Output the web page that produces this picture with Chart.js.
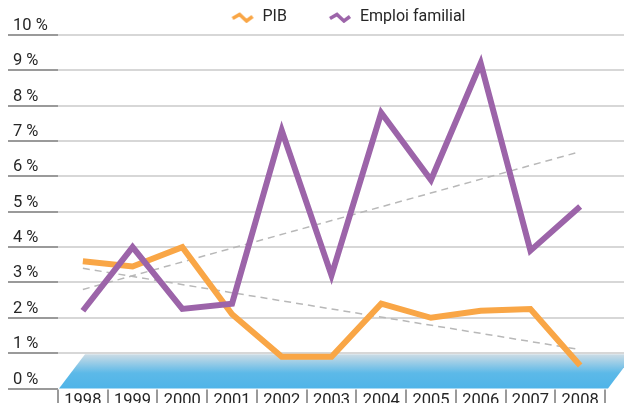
<!DOCTYPE html>
<html>
<head>
<meta charset="utf-8">
<script src="https://cdn.jsdelivr.net/npm/chart.js@4"></script>
<style>
  html, body { margin: 0; padding: 0; background: #fff; }
</style>
</head>
<body>
<canvas id="myChart" width="624" height="403"></canvas>
<script>

const years = ['1998', '1999', '2000', '2001', '2002', '2003', '2004', '2005', '2006', '2007', '2008'];
const pib = [3.6, 3.45, 4.0, 2.1, 0.9, 0.9, 2.4, 2.0, 2.2, 2.25, 0.65];
const emploi = [2.2, 4.0, 2.25, 2.4, 7.3, 3.2, 7.8, 5.9, 9.2, 3.9, 5.15];
// dashed trend lines, read at first and last year
const pibTrend = [3.4, null, null, null, null, null, null, null, null, null, 1.1];
const emploiTrend = [2.8, null, null, null, null, null, null, null, null, null, 6.7];
const yTicks = [0, 1, 2, 3, 4, 5, 6, 7, 8, 9, 10];

const FONT = 'Roboto';

// little zigzag used as legend symbol
function zigzag(color) {
  const c = document.createElement('canvas');
  c.width = 57;
  c.height = 12;
  const g = c.getContext('2d');
  g.strokeStyle = color;
  g.lineWidth = 3.5;
  g.lineJoin = 'miter';
  g.beginPath();
  g.moveTo(35, 7.5);
  g.lineTo(42, 3.5);
  g.lineTo(49, 10);
  g.lineTo(55, 5.5);
  g.stroke();
  return c;
}

const decor = {
  id: 'decor',
  beforeDatasetsDraw(chart) {
    const { ctx, scales: { x, y } } = chart;
    ctx.save();

    // horizontal grid + labels
    yTicks.forEach(v => {
      const py = Math.round(y.getPixelForValue(v));
      if (v > 0) {
        ctx.strokeStyle = '#cacaca';
        ctx.lineWidth = 1.5;
        ctx.beginPath();
        ctx.moveTo(x.left, py);
        ctx.lineTo(624, py);
        ctx.stroke();
      }
      ctx.strokeStyle = '#9a9a9a';
      ctx.lineWidth = 2;
      ctx.beginPath();
      ctx.moveTo(8, py);
      ctx.lineTo(x.left, py);
      ctx.stroke();

      ctx.fillStyle = '#262626';
      ctx.font = '16.5px ' + FONT;
      ctx.textAlign = 'left';
      ctx.textBaseline = 'alphabetic';
      ctx.fillText(v + ' %', 13, py - 5);
    });

    // blue floor between 0 and 1 %
    const y0 = y.getPixelForValue(0);
    const y1 = y.getPixelForValue(1) + 1;
    const slant = 26;
    const grad = ctx.createLinearGradient(0, y1, 0, y0);
    grad.addColorStop(0, '#cddce5');
    grad.addColorStop(0.55, '#5cb9e8');
    grad.addColorStop(1, '#4fb4e8');
    ctx.fillStyle = grad;
    ctx.beginPath();
    ctx.moveTo(x.left + 1, y0);
    ctx.lineTo(x.left + 1 + slant, y1);
    ctx.lineTo(x.right + 3 + slant, y1);
    ctx.lineTo(x.right + 3, y0);
    ctx.closePath();
    ctx.fill();

    // category separators and year labels
    const half = (x.getPixelForValue(1) - x.getPixelForValue(0)) / 2;
    ctx.strokeStyle = '#9a9a9a';
    ctx.lineWidth = 2;
    for (let i = 0; i <= years.length; i++) {
      const px = Math.round(x.getPixelForValue(Math.min(i, years.length - 1)) + (i < years.length ? -half : half));
      ctx.beginPath();
      ctx.moveTo(px, y0 + 1);
      ctx.lineTo(px, 403);
      ctx.stroke();
    }
    ctx.fillStyle = '#262626';
    ctx.font = '16.5px ' + FONT;
    ctx.textAlign = 'center';
    ctx.textBaseline = 'top';
    years.forEach((yr, i) => {
      ctx.fillText(yr, x.getPixelForValue(i), 393);
    });

    ctx.restore();
  }
};

const ctx = document.getElementById('myChart');

const config = {
  type: 'line',
  data: {
    labels: years,
    datasets: [{
      label: 'PIB',
      data: pib,
      borderColor: '#f9a646',
      borderWidth: 6,
      borderJoinStyle: 'miter',
      pointRadius: 0,
      pointStyle: zigzag('#f9a646'),
      order: 1
    }, {
      label: 'Emploi familial',
      data: emploi,
      borderColor: '#9c64a9',
      borderWidth: 6,
      borderJoinStyle: 'miter',
      pointRadius: 0,
      pointStyle: zigzag('#9c64a9'),
      order: 0
    }, {
      label: 'trend PIB',
      data: pibTrend,
      spanGaps: true,
      borderColor: '#b8b8b8',
      borderWidth: 1.5,
      borderDash: [7, 5],
      pointRadius: 0,
      order: 2
    }, {
      label: 'trend emploi',
      data: emploiTrend,
      spanGaps: true,
      borderColor: '#b8b8b8',
      borderWidth: 1.5,
      borderDash: [7, 5],
      pointRadius: 0,
      order: 3
    }]
  },
  options: {
    responsive: false,
    animation: false,
    devicePixelRatio: 1,
    layout: {
      autoPadding: false,
      padding: { left: 58, right: 19, top: 1, bottom: 14.5 }
    },
    scales: {
      x: { display: false, offset: true },
      y: { display: false, min: 0, max: 10 }
    },
    plugins: {
      legend: {
        display: true,
        position: 'top',
        labels: {
          usePointStyle: true,
          pointStyleWidth: 57,
          padding: 8,
          color: '#262626',
          font: { family: FONT, size: 16 },
          filter: item => item.datasetIndex < 2,
          sort: (a, b) => a.datasetIndex - b.datasetIndex
        }
      },
      tooltip: { enabled: false }
    }
  },
  plugins: [decor]
};

new Chart(ctx, config);
</script>
</body>
</html>
